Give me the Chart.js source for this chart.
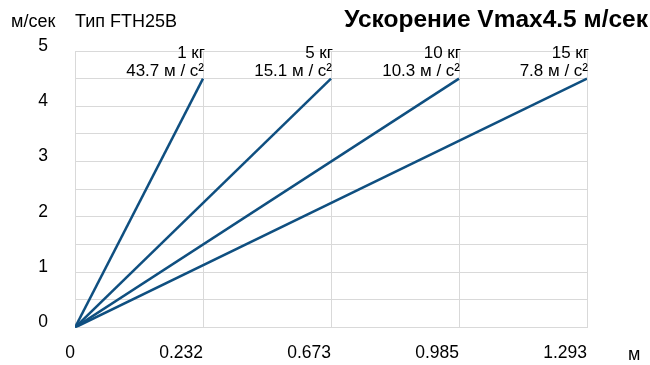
<!DOCTYPE html>
<html>
<head>
<meta charset="utf-8">
<script src="https://cdn.jsdelivr.net/npm/chart.js@4"></script>
<style>
  html, body { margin: 0; padding: 0; background: #fff; }
  #wrap { width: 650px; height: 365px; }
</style>
</head>
<body>
<div id="wrap"><canvas id="accelChart" width="650" height="365"></canvas></div>
<script>
// tick labels on the x axis (equally spaced in the original)
const xTickLabels = ['0', '0.232', '0.673', '0.985', '1.293'];
// one line per load, from the origin to its stopping point
const loadLabels = ['1 кг', '5 кг', '10 кг', '15 кг'];
const accelLabels = ['43.7 м / с²', '15.1 м / с²', '10.3 м / с²', '7.8 м / с²'];
const endTick = [1, 2, 3, 4];
const vMax = 4.5;

const FONT = '"Liberation Sans", Arial, sans-serif';
const LINE_COLOR = '#0f4f80';
const GRID_COLOR = '#d9d9d9';

const datasets = loadLabels.map((name, i) => ({
  label: name,
  data: [{ x: 0, y: 0 }, { x: endTick[i], y: vMax }],
  borderColor: LINE_COLOR,
  borderWidth: 2.5,
  pointRadius: 0,
  fill: false
}));

const textPlugin = {
  id: 'texts',
  afterDatasetsDraw(chart) {
    const ctx = chart.ctx;
    ctx.save();
    ctx.fillStyle = '#000';
    ctx.textAlign = 'right';
    ctx.textBaseline = 'alphabetic';
    ctx.font = '17px ' + FONT;
    chart.data.datasets.forEach((ds, i) => {
      const pt = chart.getDatasetMeta(i).data[1];
      ctx.fillText(loadLabels[i], pt.x + 2, pt.y - 21);
      ctx.fillText(accelLabels[i], pt.x + 1, pt.y - 3);
    });
    ctx.textAlign = 'left';
    ctx.font = '18px ' + FONT;
    ctx.fillText('м/сек', 11, 27);
    ctx.fillText('Тип FTH25B', 75, 27);
    ctx.fillText('м', 628, 360);
    ctx.textAlign = 'right';
    ctx.font = 'bold 24.5px ' + FONT;
    ctx.fillText('Ускорение Vmax4.5 м/сек', 648, 27);
    ctx.restore();
  }
};

new Chart(document.getElementById('accelChart'), {
  type: 'line',
  data: { datasets: datasets },
  options: {
    responsive: false,
    animation: false,
    layout: { padding: { left: 0, top: 51, right: 63, bottom: 0 } },
    plugins: { legend: { display: false }, tooltip: { enabled: false } },
    scales: {
      x: {
        type: 'linear',
        min: 0,
        max: 4,
        afterFit: s => { s.height = 36; },
        afterBuildTicks: s => { s.ticks = xTickLabels.map((_, i) => ({ value: i })); },
        ticks: {
          align: 'end',
          padding: 15,
          color: '#000',
          font: { family: FONT, size: 17.5 },
          callback: (v) => xTickLabels[v] ?? ''
        },
        grid: { color: GRID_COLOR, drawTicks: false },
        border: { color: GRID_COLOR }
      },
      y: {
        min: 0,
        max: 5,
        afterFit: s => { s.width = 75; },
        ticks: {
          stepSize: 0.5,
          padding: 27,
          labelOffset: -5,
          color: '#000',
          font: { family: FONT, size: 17.5 },
          callback: (v) => Number.isInteger(v) ? String(v) : ''
        },
        grid: { color: GRID_COLOR, drawTicks: false },
        border: { color: GRID_COLOR }
      }
    }
  },
  plugins: [textPlugin]
});
</script>
</body>
</html>
